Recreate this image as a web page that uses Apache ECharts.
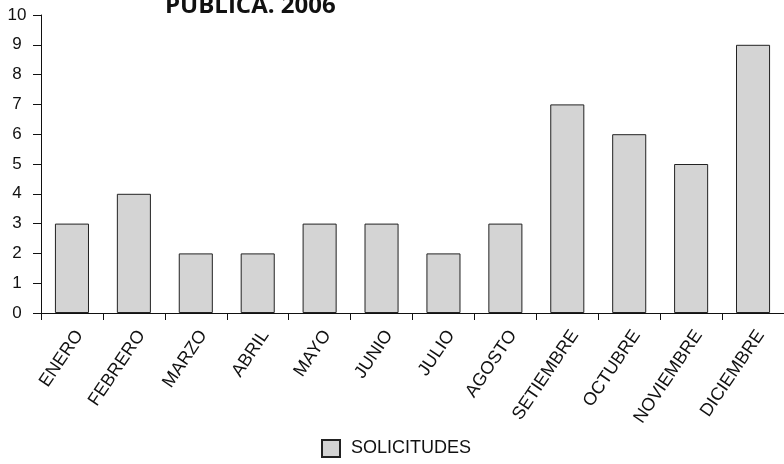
<!DOCTYPE html>
<html><head><meta charset="utf-8">
<script src="https://cdn.jsdelivr.net/npm/echarts@6/dist/echarts.min.js"></script>
<style>html,body{margin:0;padding:0;background:#fff}#c{width:784px;height:464px}</style>
</head><body><div id="c"></div>
<script>
const categories = ['ENERO','FEBRERO','MARZO','ABRIL','MAYO','JUNIO','JULIO','AGOSTO','SETIEMBRE','OCTUBRE','NOVIEMBRE','DICIEMBRE'];
const solicitudes = [3,4,2,2,3,3,2,3,7,6,5,9];
const seriesName = 'SOLICITUDES';
const titleText = 'PUBLICA. 2006';

const chart = echarts.init(document.getElementById('c'), null, {renderer:'canvas'});
chart.setOption({
  animation:false,
  title:{text:titleText,left:160,top:-11,textStyle:{fontFamily:'Open Sans',fontWeight:'bold',fontSize:24,color:'#111'}},
  legend:{bottom:1,left:316,itemWidth:18,itemHeight:17,itemGap:12,icon:'rect',
    textStyle:{fontFamily:'Liberation Sans',fontSize:18,color:'#111',padding:[0,0,0,6]},data:[seriesName]},
  grid:{left:41,right:-3,top:15,bottom:151,containLabel:false},
  xAxis:{type:'category',data:categories,
    axisLine:{lineStyle:{color:'#111',width:1}},
    axisTick:{show:true,alignWithLabel:false,length:7,lineStyle:{color:'#111'}},
    axisLabel:{rotate:56,fontFamily:'Liberation Sans',fontSize:18,color:'#111',margin:14,interval:0,verticalAlign:'top'}},
  yAxis:{type:'value',min:0,max:10,interval:1,
    axisLine:{show:true,lineStyle:{color:'#111',width:1}},
    axisTick:{show:true,length:8,lineStyle:{color:'#111'}},
    splitLine:{show:false},
    axisLabel:{fontFamily:'Liberation Sans',fontSize:17,color:'#111',margin:24,align:'center'}},
  series:[{name:seriesName,type:'bar',data:solicitudes,barWidth:'55%',
    itemStyle:{color:'#d4d4d4',borderColor:'#222',borderWidth:1}}]
});
</script></body></html>
